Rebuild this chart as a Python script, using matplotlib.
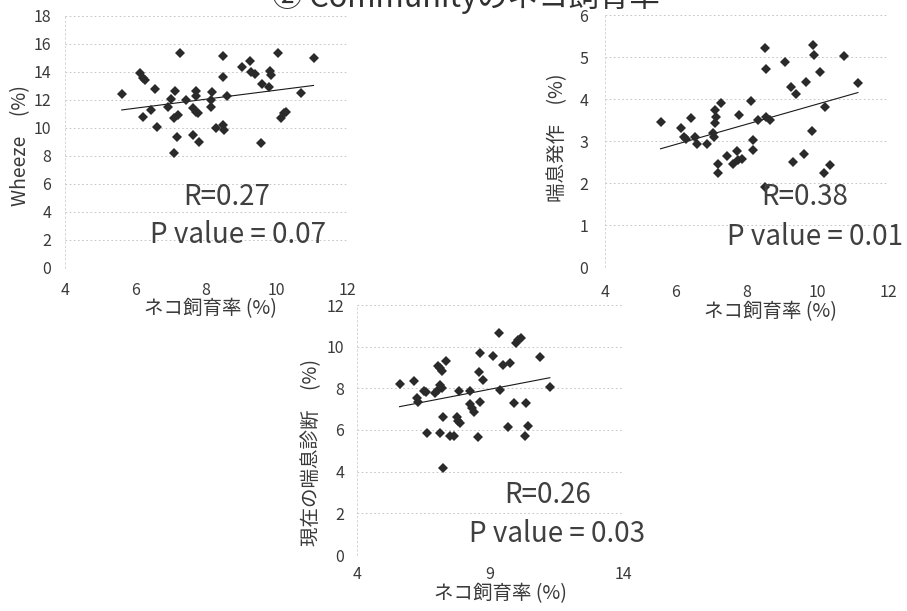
import numpy as np
import matplotlib
matplotlib.use("Agg")
import matplotlib.pyplot as plt

plt.rcParams['font.family'] = ['Noto Sans CJK JP', 'DejaVu Sans']

# ---------------- data ----------------
title = "② Communityのネコ飼育率"
xlabel = "ネコ飼育率 (%)"

wheeze_x = [5.61, 6.14, 6.20, 6.28, 6.20, 6.45, 6.54, 6.60, 6.91, 7.02, 7.12, 7.10,
            7.20, 7.26, 7.19, 7.09, 7.44, 7.63, 7.72, 7.77, 7.72, 7.72, 7.63, 7.81,
            8.14, 8.17, 8.14, 8.28, 8.47, 8.47, 8.47, 8.50, 8.60, 9.02, 9.26, 9.27,
            9.40, 9.60, 9.56, 9.81, 9.83, 9.80, 10.03, 10.14, 10.20, 10.28, 10.70, 11.05]
wheeze_y = [12.41, 13.91, 13.60, 13.40, 10.80, 11.30, 12.77, 10.06, 11.48, 12.05, 12.67, 10.70,
            10.94, 15.34, 9.39, 8.20, 12.00, 11.41, 11.17, 11.06, 12.67, 12.29, 9.51, 9.03,
            12.00, 12.60, 11.53, 9.99, 15.14, 13.62, 10.22, 9.87, 12.32, 14.38, 14.81, 14.03,
            13.86, 13.15, 8.96, 14.05, 13.77, 12.96, 15.38, 10.70, 11.10, 11.17, 12.48, 14.98]

attack_x = [5.57, 6.16, 6.23, 6.29, 6.42, 6.54, 6.59, 6.89, 7.04, 7.08, 7.11, 7.13,
            7.11, 7.20, 7.20, 7.29, 7.45, 7.62, 7.72, 7.76, 7.86, 7.79, 8.14, 8.19,
            8.19, 8.33, 8.53, 8.55, 8.56, 8.66, 8.53, 9.08, 9.27, 9.41, 9.32, 9.63,
            9.67, 9.84, 9.88, 9.91, 10.07, 10.21, 10.18, 10.35, 10.75, 11.15]
attack_y = [3.46, 3.31, 3.10, 3.04, 3.54, 3.10, 2.93, 2.94, 3.18, 3.10, 3.74, 3.56,
            3.43, 2.46, 2.23, 3.91, 2.64, 2.46, 2.77, 2.54, 2.56, 3.63, 3.96, 3.02,
            2.78, 3.51, 5.22, 4.71, 3.56, 3.51, 1.91, 4.89, 4.29, 4.13, 2.50, 2.68,
            4.41, 3.24, 5.29, 5.05, 4.65, 3.80, 2.23, 2.42, 5.02, 4.39]

diag_x = [5.60, 6.15, 6.25, 6.31, 6.50, 6.60, 6.65, 6.94, 7.06, 7.13, 7.19, 7.06,
          7.13, 7.19, 7.35, 7.13, 7.23, 7.25, 7.50, 7.66, 7.75, 7.81, 7.88, 7.85,
          8.25, 8.25, 8.31, 8.38, 8.56, 8.63, 8.59, 8.73, 8.63, 9.13, 9.34, 9.38,
          9.50, 9.75, 9.69, 9.90, 9.98, 10.06, 10.15, 10.31, 10.34, 10.44, 10.88, 11.25]
diag_y = [8.21, 8.37, 7.52, 7.36, 7.87, 7.84, 5.84, 7.76, 7.92, 8.16, 8.00, 9.07,
          8.96, 8.85, 9.33, 5.84, 6.64, 4.16, 5.73, 5.73, 6.61, 6.45, 6.32, 7.89,
          7.89, 7.25, 7.04, 6.88, 5.68, 9.68, 8.80, 8.40, 7.36, 9.55, 10.67, 7.92,
          9.12, 9.20, 6.16, 7.31, 10.16, 10.32, 10.40, 5.71, 7.31, 6.19, 9.49, 8.05]

panels = [
    dict(x=wheeze_x, y=wheeze_y, ylabel="Wheeze\u3000(%)", xlim=(4, 12), xticks=[4, 6, 8, 10, 12],
         ylim=(0, 18), yticks=list(range(0, 19, 2)), r="R=0.27", p="P value = 0.07"),
    dict(x=attack_x, y=attack_y, ylabel="喘息発作\u3000(%)", xlim=(4, 12), xticks=[4, 6, 8, 10, 12],
         ylim=(0, 6), yticks=list(range(0, 7)), r="R=0.38", p="P value = 0.01"),
    dict(x=diag_x, y=diag_y, ylabel="現在の喘息診断\u3000(%)", xlim=(4, 14), xticks=[4, 9, 14],
         ylim=(0, 12), yticks=list(range(0, 13, 2)), r="R=0.26", p="P value = 0.03"),
]

# ---------------- layout (pixels) ----------------
W, H = 907, 611
fig = plt.figure(figsize=(W / 100, H / 100), dpi=100)

def fx(px):
    return px / W

def fy(py):
    return 1 - py / H

# left, right, top, bottom in pixels
boxes = [(65, 347, 16, 268), (605, 888, 15, 267), (357, 623, 305, 555)]
ypads = [10, 12, 9]
xpads = [10, 12, 8]
xlabel_pos = [(210, 309), (770, 312), (500, 594)]
ylabel_pos = [(21, 146), (558, 138), (312, 453)]
r_pos = [(227, 205), (805, 205), (548, 503)]
p_pos = [(238, 243), (815, 245), (557, 542)]

txt = '#3a3a3a'
for i, pan in enumerate(panels):
    l, r, t, b = boxes[i]
    ax = fig.add_axes([fx(l), fy(b), fx(r - l), (b - t) / H])
    ax.set_xlim(*pan['xlim'])
    ax.set_ylim(*pan['ylim'])
    ax.set_xticks(pan['xticks'])
    ax.set_yticks(pan['yticks'])
    for s in ['top', 'right', 'bottom']:
        ax.spines[s].set_visible(False)
    ax.spines['left'].set_color('#d0d0d0')
    ax.spines['left'].set_linewidth(0.6)
    ax.spines['left'].set_linestyle((0, (2, 3)))
    ax.grid(axis='y', color='#bdbdbd', linewidth=0.6, linestyle=(0, (2, 3)))
    ax.set_axisbelow(True)
    ax.tick_params(length=0, labelsize=11.5, colors=txt)
    ax.tick_params(axis='y', pad=ypads[i])
    ax.tick_params(axis='x', pad=xpads[i])

    xs = np.array(pan['x'])
    ys = np.array(pan['y'])
    ax.plot(xs, ys, linestyle='none', marker='D', markersize=5.2,
            color='#2a2a2a', markeredgewidth=0, zorder=3)
    k, c = np.polyfit(xs, ys, 1)
    xx = np.array([xs.min(), xs.max()])
    ax.plot(xx, k * xx + c, color='#1a1a1a', linewidth=0.8, zorder=2)

    fig.text(fx(xlabel_pos[i][0]), fy(xlabel_pos[i][1]), xlabel, ha='center', va='center',
             fontsize=14, color=txt)
    fig.text(fx(ylabel_pos[i][0]), fy(ylabel_pos[i][1]), pan['ylabel'], ha='center', va='center',
             rotation=90, fontsize=14, color=txt)
    fig.text(fx(r_pos[i][0]), fy(r_pos[i][1]), pan['r'], ha='center', va='baseline',
             fontsize=20, color='#404040')
    fig.text(fx(p_pos[i][0]), fy(p_pos[i][1]), pan['p'], ha='center', va='baseline',
             fontsize=20, color='#404040')

fig.text(fx(466), fy(7), title, ha='center', va='baseline', fontsize=22, color='#303030')

fig.savefig('out.png', dpi=100)
